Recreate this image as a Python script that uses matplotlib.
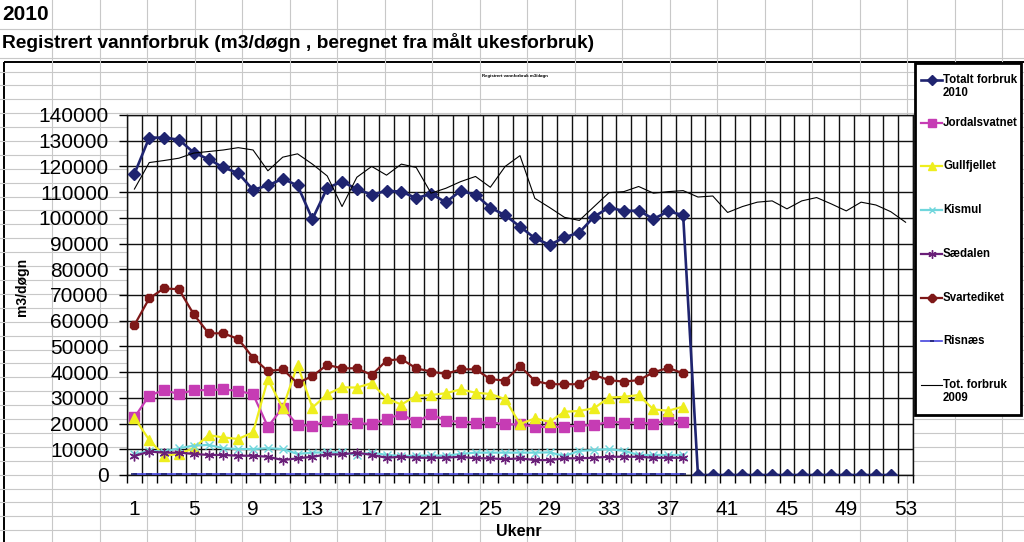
import numpy as np
import matplotlib
matplotlib.use("Agg")
import matplotlib.pyplot as plt
from matplotlib.lines import Line2D
from matplotlib.patches import Rectangle

plt.rcParams['font.family'] = ['Liberation Sans', 'DejaVu Sans']

NAN = np.nan
weeks = np.arange(1, 54)

# weekly values, m3/døgn (weeks 1..53)
totalt_2010 = [117100, 131200, 131200, 130400, 125400, 122800, 119600, 117400, 110900, 112600,
               115200, 112600, 99500, 111600, 114100, 111200, 109000, 110500, 110200, 107700,
               109300, 106100, 110500, 109000, 104000, 101000, 96600, 92100, 89500, 92400,
               94300, 100500, 104000, 102700, 102800, 99600, 102500, 101100,
               0, 0, 0, 0, 0, 0, 0, 0, 0, 0, 0, 0, 0, 0, NAN]
jordalsvatnet = [22400, 30900, 33000, 31500, 33000, 33000, 33300, 32700, 31400, 18800,
                 26200, 19400, 19200, 21000, 21800, 20100, 19900, 21800, 23700, 20500,
                 23700, 21100, 20700, 20400, 20500, 19700, 19700, 18800, 18600, 18800,
                 19200, 19400, 20700, 20400, 20400, 19900, 21600, 20700] + [NAN] * 15
gullfjellet = [22300, 13600, 7500, 8200, 10400, 15500, 14600, 14000, 16600, 37300,
               26000, 42800, 26200, 31400, 34100, 34000, 35700, 29800, 27400, 30800,
               31100, 31800, 33300, 32000, 31500, 29500, 19800, 22000, 20700, 24600,
               24900, 26000, 30100, 30400, 31100, 25500, 25000, 26600] + [NAN] * 15
kismul = [8000, 9400, 9100, 10400, 11400, 11700, 10400, 10100, 10100, 10400,
          10100, 8200, 8700, 8800, 8800, 7800, 8700, 7800, 7400, 7500,
          7600, 7500, 8200, 8700, 8700, 8700, 8700, 8700, 8800, 7400,
          9400, 9700, 10100, 9400, 7800, 7800, 7800, 7800] + [NAN] * 15
saedalen = [7400, 9100, 8700, 8700, 8200, 7800, 7800, 7500, 7500, 7100,
            5800, 6500, 7100, 8000, 8000, 8700, 7800, 6700, 7100, 6700,
            6700, 6700, 7100, 6500, 6500, 6100, 6500, 5800, 5800, 6500,
            6500, 6700, 7100, 7100, 7100, 6700, 6700, 6700] + [NAN] * 15
svartediket = [58300, 68700, 72600, 72200, 62500, 55100, 55100, 52900, 45600, 40400,
               41100, 35700, 38500, 42800, 41500, 41500, 38900, 44500, 45100, 41500,
               40200, 39300, 41100, 41100, 37300, 36700, 42400, 36600, 35300, 35300,
               35300, 38900, 36900, 36300, 36900, 39900, 41700, 39500] + [NAN] * 15
risnaes = [300] * 38 + [NAN] * 15
tot_2009 = [111200, 121500, 122300, 123200, 125200, 125800, 126400, 127300, 126400, 118300,
            123600, 124900, 120900, 116300, 104400, 115800, 120000, 116600, 120900, 119600,
            109600, 111500, 114100, 116100, 111900, 120000, 124200, 107600, 104000, 100200,
            99000, 104400, 109800, 110200, 112200, 109600, 110200, 110600, 108100, 108500,
            102100, 104400, 106100, 106600, 103500, 106600, 107900, 105400, 102700, 106100,
            105000, 102400, 98300]

series = [
    ("Totalt forbruk\n2010", totalt_2010, dict(color="#1f2470", lw=1.9, marker="D", ms=6.5)),
    ("Jordalsvatnet", jordalsvatnet, dict(color="#c63cb4", lw=1.6, marker="s", ms=6.5)),
    ("Gullfjellet", gullfjellet, dict(color="#eeee1e", lw=1.6, marker="^", ms=7.5)),
    ("Kismul", kismul, dict(color="#70d6dc", lw=1.6, marker="x", ms=5.5, mew=1.0)),
    ("Sædalen", saedalen, dict(color="#6a1f78", lw=1.6, marker=(6, 2, 0), ms=7, mew=1.0)),
    ("Svartediket", svartediket, dict(color="#7e1818", lw=1.6, marker="8", ms=6.5)),
    ("Risnæs", risnaes, dict(color="#4444dd", lw=1.2, marker="_", ms=4, mew=1.2, mec="#1f2470")),
    ("Tot. forbruk\n2009", tot_2009, dict(color="black", lw=0.8, marker=None)),
]

W, H = 1024, 542
fig = plt.figure(figsize=(W / 100, H / 100), dpi=100)

# spreadsheet cells behind the chart
bg = fig.add_axes([0, 0, 1, 1], zorder=0)
bg.set_xlim(0, W)
bg.set_ylim(H, 0)
bg.axis("off")
for x in np.arange(52, W, 47.5):
    bg.axvline(x, color="#c8c8c8", lw=0.8)
for y in [28.6] + list(np.arange(57.6, H, 13.9)):
    bg.axhline(y, color="#c8c8c8", lw=0.8)
bg.add_patch(Rectangle((4, 62), 1030, 500, fill=False, ec="black", lw=1.4))

fig.text(2 / W, 1 - 15 / H, "2010", fontsize=15, fontweight="bold", va="center")
fig.text(2 / W, 1 - 43 / H, "Registrert vannforbruk (m3/døgn , beregnet fra målt ukesforbruk)",
         fontsize=13.8, fontweight="bold", va="center")
fig.text(515 / W, 1 - 76 / H, "Registrert vannforbruk m3/døgn", fontsize=3.2,
         fontweight="bold", ha="center", va="center")

# plot area
ax = fig.add_axes([127 / W, 1 - 475 / H, (913 - 127) / W, (475 - 115) / H], zorder=1)
ax.set_facecolor("white")
ax.set_axisbelow(True)
for label, vals, st in series:
    ax.plot(weeks, vals, label=label, zorder=3, **st)

ax.set_xlim(0.5, 53.5)
ax.set_ylim(0, 140000)
# Excel puts category gridlines between the categories, labels on every 4th week
ax.set_xticks(np.arange(0.5, 54, 1))
ax.set_xticklabels([])
ax.set_xticks(weeks[::4], minor=True)
ax.set_xticklabels([str(w) for w in weeks[::4]], minor=True)
ax.set_yticks(np.arange(0, 140001, 10000))
ax.tick_params(axis="x", which="major", direction="out", length=5.5, width=1.0)
ax.tick_params(axis="x", which="minor", length=0, labelsize=15, pad=18)
ax.tick_params(axis="y", direction="out", length=6, width=1.0, labelsize=15, pad=7)
ax.xaxis.grid(True, which="major", color="#111111", linewidth=1.0)
ax.yaxis.grid(True, which="major", color="#111111", linewidth=1.0)
for sp in ax.spines.values():
    sp.set_color("#111111")
    sp.set_linewidth(1.0)

fig.text(519 / W, 1 - 531 / H, "Ukenr", fontsize=11.5, fontweight="bold", ha="center", va="center")
fig.text(22 / W, 1 - 287 / H, "m3/døgn", fontsize=10, fontweight="bold", rotation=90,
         ha="center", va="center")

# legend box
lg = fig.add_axes([0, 0, 1, 1], zorder=2)
lg.set_xlim(0, W)
lg.set_ylim(H, 0)
lg.axis("off")
lg.patch.set_alpha(0)
lg.add_patch(Rectangle((915, 63), 106, 352, fc="white", ec="black", lw=2.0))
ys = [80, 123, 166, 210, 254, 298, 341, 385]
for (label, vals, st), y in zip(series, ys):
    kw = dict(st)
    if kw.get("marker") is not None:
        kw["ms"] = kw["ms"] * 0.85
    lg.add_line(Line2D([921, 931.5, 942], [y, y, y], markevery=[1], **kw))
    for i, t in enumerate(label.split("\n")):
        lg.text(943, y + 13 * i, t, fontsize=8.3, fontweight="bold", va="center")

fig.savefig("out.png", dpi=100)
